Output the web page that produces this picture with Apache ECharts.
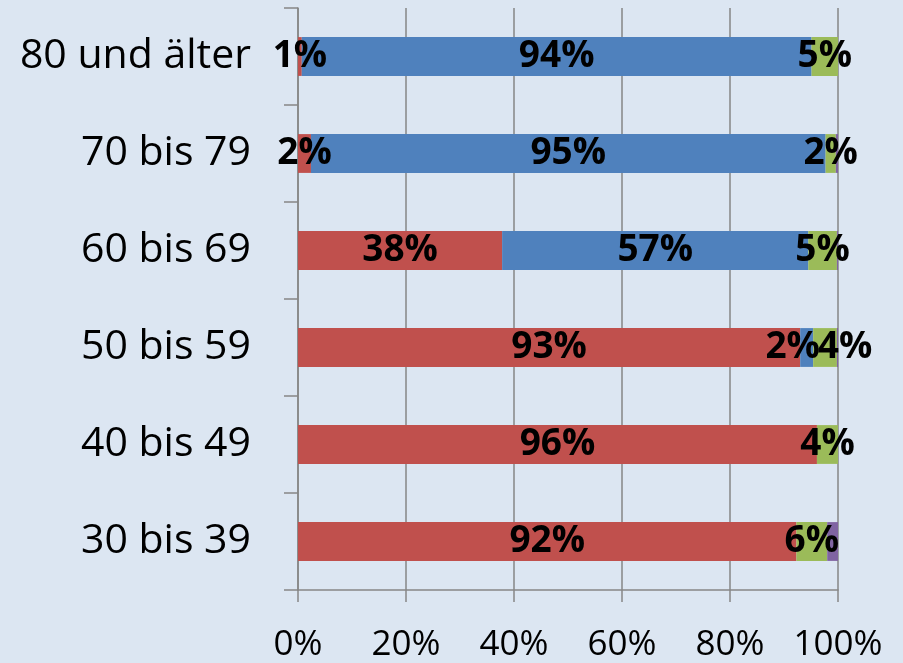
<!DOCTYPE html>
<html><head><meta charset="utf-8">
<script src="https://cdn.jsdelivr.net/npm/echarts@6/dist/echarts.min.js"></script>
<style>html,body{margin:0;padding:0;background:#dce6f2}#c{width:903px;height:663px}</style>
</head><body><div id="c"></div>
<script>
const categories = ['30 bis 39', '40 bis 49', '50 bis 59', '60 bis 69', '70 bis 79', '80 und älter'];
const redValues    = [92.3, 96.1, 93.0, 37.8, 2.4, 0.7];
const blueValues   = [0, 0, 2.4, 56.7, 95.3, 94.4];
const greenValues  = [5.7, 3.9, 4.4, 5.3, 1.9, 4.9];
const purpleValues = [2.0, 0, 0.2, 0.2, 0.4, 0];
const tickLabels = ['0%', '20%', '40%', '60%', '80%', '100%'];
// label nudges (px) for crowded segments: [seriesKey, categoryIndex, dx]
const labelNudges = [['blue', 2, -14], ['green', 2, 20]];

const FONT = '"Open Sans", sans-serif';
const labelCfg = {
  show: true, position: 'inside', color: '#000', fontFamily: FONT, fontWeight: 'bold', fontSize: 37,
  formatter: p => p.value > 0 ? Math.round(p.value) + '%' : ''
};
function mk(key, data, color, showLabel) {
  const items = data.map((v, i) => {
    const n = labelNudges.find(x => x[0] === key && x[1] === i);
    return n ? { value: v, label: { offset: [n[2], 0] } } : v;
  });
  return {
    name: key, type: 'bar', stack: 'all', data: items, barWidth: '40%',
    itemStyle: { color },
    label: showLabel ? labelCfg : { show: false },
    emphasis: { disabled: true }
  };
}
const chart = echarts.init(document.getElementById('c'));
chart.setOption({
  backgroundColor: '#dce6f2',
  animation: false,
  grid: { left: 298, right: 65, top: 8, bottom: 72, containLabel: false },
  xAxis: {
    type: 'value', min: 0, max: 100, interval: 20,
    axisLine: { show: true, lineStyle: { color: '#868686', width: 1.5 } },
    axisTick: { show: true, length: 12, lineStyle: { color: '#868686', width: 1.5 } },
    splitLine: { show: true, lineStyle: { color: '#868686', width: 1.5 } },
    axisLabel: { color: '#000', fontFamily: FONT, fontSize: 35, margin: 38,
      formatter: v => tickLabels[Math.round(v / 20)] }
  },
  yAxis: {
    type: 'category', data: categories,
    axisLine: { show: true, lineStyle: { color: '#868686', width: 1.5 } },
    axisTick: { show: true, length: 14, lineStyle: { color: '#868686', width: 1.5 } },
    axisLabel: { color: '#000', fontFamily: FONT, fontSize: 41, margin: 47 }
  },
  series: [
    mk('red', redValues, '#c0504d', true),
    mk('blue', blueValues, '#4f81bd', true),
    mk('green', greenValues, '#9bbb59', true),
    mk('purple', purpleValues, '#8064a2', false)
  ]
});
</script></body></html>
